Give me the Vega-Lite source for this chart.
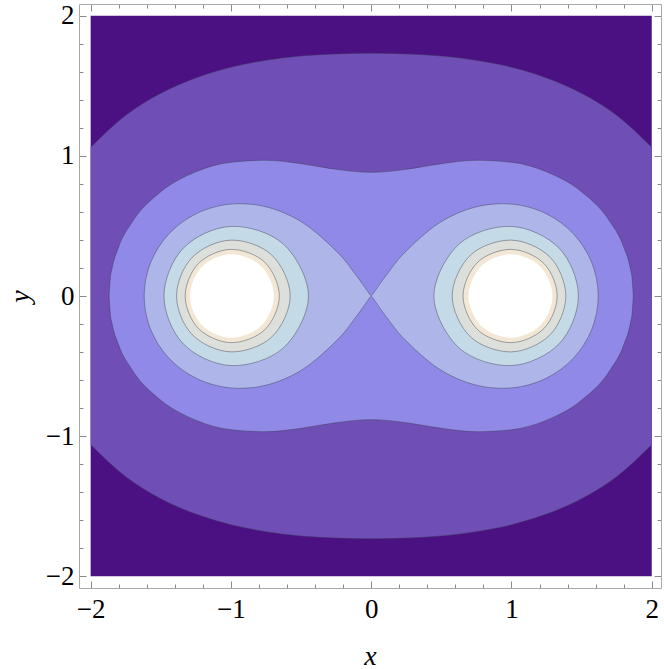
{
  "$schema": "https://vega.github.io/schema/vega-lite/v6.json",
  "width": 582,
  "height": 584,
  "autosize": {"type": "none"},
  "padding": {"left": 79, "top": 4, "right": 3, "bottom": 81},
  "background": "white",
  "config": {
    "view": {"stroke": null},
    "axis": {
      "domainColor": "#a8a8a8",
      "domainWidth": 1,
      "tickColor": "#8a8a8a",
      "tickWidth": 1,
      "grid": false,
      "labelFont": "Liberation Serif",
      "labelFontSize": 27,
      "labelColor": "black",
      "titleFont": "Liberation Serif",
      "titleFontSize": 28,
      "titleFontStyle": "italic",
      "titleFontWeight": "normal",
      "titleColor": "black",
      "zindex": 1
    }
  },
  "datasets": {
    "bg": [{"x": -2, "x2": 2, "y": -2, "y2": 2}],
    "outer": [
      {"x": -2, "y": 1.061, "ylo": -1.061},
      {"x": -1.75, "y": 1.289, "ylo": -1.289},
      {"x": -1.5, "y": 1.446, "ylo": -1.446},
      {"x": -1.25, "y": 1.556, "ylo": -1.556},
      {"x": -1, "y": 1.632, "ylo": -1.632},
      {"x": -0.75, "y": 1.681, "ylo": -1.681},
      {"x": -0.5, "y": 1.712, "ylo": -1.712},
      {"x": -0.25, "y": 1.727, "ylo": -1.727},
      {"x": 0, "y": 1.732, "ylo": -1.732},
      {"x": 0.25, "y": 1.727, "ylo": -1.727},
      {"x": 0.5, "y": 1.712, "ylo": -1.712},
      {"x": 0.75, "y": 1.681, "ylo": -1.681},
      {"x": 1, "y": 1.632, "ylo": -1.632},
      {"x": 1.25, "y": 1.556, "ylo": -1.556},
      {"x": 1.5, "y": 1.446, "ylo": -1.446},
      {"x": 1.75, "y": 1.289, "ylo": -1.289},
      {"x": 2, "y": 1.061, "ylo": -1.061}
    ],
    "peanut": [
      {"x": -1.8685, "y": 0, "ylo": 0},
      {"x": -1.86, "y": 0.126, "ylo": -0.126},
      {"x": -1.85, "y": 0.184, "ylo": -0.184},
      {"x": -1.8, "y": 0.35, "ylo": -0.35},
      {"x": -1.7, "y": 0.533, "ylo": -0.533},
      {"x": -1.5, "y": 0.743, "ylo": -0.743},
      {"x": -1.25, "y": 0.886, "ylo": -0.886},
      {"x": -1, "y": 0.954, "ylo": -0.954},
      {"x": -0.75, "y": 0.968, "ylo": -0.968},
      {"x": -0.5, "y": 0.944, "ylo": -0.944},
      {"x": -0.25, "y": 0.9035, "ylo": -0.9035},
      {"x": 0, "y": 0.8819, "ylo": -0.8819},
      {"x": 0.25, "y": 0.9035, "ylo": -0.9035},
      {"x": 0.5, "y": 0.944, "ylo": -0.944},
      {"x": 0.75, "y": 0.968, "ylo": -0.968},
      {"x": 1, "y": 0.954, "ylo": -0.954},
      {"x": 1.25, "y": 0.886, "ylo": -0.886},
      {"x": 1.5, "y": 0.743, "ylo": -0.743},
      {"x": 1.7, "y": 0.533, "ylo": -0.533},
      {"x": 1.8, "y": 0.35, "ylo": -0.35},
      {"x": 1.85, "y": 0.184, "ylo": -0.184},
      {"x": 1.86, "y": 0.126, "ylo": -0.126},
      {"x": 1.8685, "y": 0, "ylo": 0}
    ],
    "lobes": [
      {"g": "R", "o": 0, "x": 0.004, "y": 0.003},
      {"g": "R", "o": 1, "x": 0.1137, "y": 0.1562},
      {"g": "R", "o": 2, "x": 0.2424, "y": 0.3138},
      {"g": "R", "o": 3, "x": 0.4812, "y": 0.5188},
      {"g": "R", "o": 4, "x": 0.7377, "y": 0.6331},
      {"g": "R", "o": 5, "x": 1, "y": 0.6556},
      {"g": "R", "o": 6, "x": 1.2439, "y": 0.5889},
      {"g": "R", "o": 7, "x": 1.4427, "y": 0.4427},
      {"g": "R", "o": 8, "x": 1.5728, "y": 0.2373},
      {"g": "R", "o": 9, "x": 1.618, "y": 0},
      {"g": "R", "o": 10, "x": 1.5728, "y": -0.2373},
      {"g": "R", "o": 11, "x": 1.4427, "y": -0.4427},
      {"g": "R", "o": 12, "x": 1.2439, "y": -0.5889},
      {"g": "R", "o": 13, "x": 1, "y": -0.6556},
      {"g": "R", "o": 14, "x": 0.7377, "y": -0.6331},
      {"g": "R", "o": 15, "x": 0.4812, "y": -0.5188},
      {"g": "R", "o": 16, "x": 0.2424, "y": -0.3138},
      {"g": "R", "o": 17, "x": 0.1137, "y": -0.1562},
      {"g": "R", "o": 18, "x": 0.004, "y": -0.003},
      {"g": "L", "o": 0, "x": -0.004, "y": 0.003},
      {"g": "L", "o": 1, "x": -0.1137, "y": 0.1562},
      {"g": "L", "o": 2, "x": -0.2424, "y": 0.3138},
      {"g": "L", "o": 3, "x": -0.4812, "y": 0.5188},
      {"g": "L", "o": 4, "x": -0.7377, "y": 0.6331},
      {"g": "L", "o": 5, "x": -1, "y": 0.6556},
      {"g": "L", "o": 6, "x": -1.2439, "y": 0.5889},
      {"g": "L", "o": 7, "x": -1.4427, "y": 0.4427},
      {"g": "L", "o": 8, "x": -1.5728, "y": 0.2373},
      {"g": "L", "o": 9, "x": -1.618, "y": 0},
      {"g": "L", "o": 10, "x": -1.5728, "y": -0.2373},
      {"g": "L", "o": 11, "x": -1.4427, "y": -0.4427},
      {"g": "L", "o": 12, "x": -1.2439, "y": -0.5889},
      {"g": "L", "o": 13, "x": -1, "y": -0.6556},
      {"g": "L", "o": 14, "x": -0.7377, "y": -0.6331},
      {"g": "L", "o": 15, "x": -0.4812, "y": -0.5188},
      {"g": "L", "o": 16, "x": -0.2424, "y": -0.3138},
      {"g": "L", "o": 17, "x": -0.1137, "y": -0.1562},
      {"g": "L", "o": 18, "x": -0.004, "y": -0.003}
    ],
    "rings": [
      {"lev": 2.5, "g": "R", "o": 0, "x": 1.477, "y": 0},
      {"lev": 2.5, "g": "R", "o": 1, "x": 1.3404, "y": 0.3404},
      {"lev": 2.5, "g": "R", "o": 2, "x": 1, "y": 0.4964},
      {"lev": 2.5, "g": "R", "o": 3, "x": 0.6281, "y": 0.3719},
      {"lev": 2.5, "g": "R", "o": 4, "x": 0.4473, "y": 0},
      {"lev": 2.5, "g": "R", "o": 5, "x": 0.6281, "y": -0.3719},
      {"lev": 2.5, "g": "R", "o": 6, "x": 1, "y": -0.4964},
      {"lev": 2.5, "g": "R", "o": 7, "x": 1.3404, "y": -0.3404},
      {"lev": 2.5, "g": "L", "o": 0, "x": -1.477, "y": 0},
      {"lev": 2.5, "g": "L", "o": 1, "x": -1.3404, "y": 0.3404},
      {"lev": 2.5, "g": "L", "o": 2, "x": -1, "y": 0.4964},
      {"lev": 2.5, "g": "L", "o": 3, "x": -0.6281, "y": 0.3719},
      {"lev": 2.5, "g": "L", "o": 4, "x": -0.4473, "y": 0},
      {"lev": 2.5, "g": "L", "o": 5, "x": -0.6281, "y": -0.3719},
      {"lev": 2.5, "g": "L", "o": 6, "x": -1, "y": -0.4964},
      {"lev": 2.5, "g": "L", "o": 7, "x": -1.3404, "y": -0.3404},
      {"lev": 3, "g": "R", "o": 0, "x": 1.3875, "y": 0},
      {"lev": 3, "g": "R", "o": 1, "x": 1.2758, "y": 0.2758},
      {"lev": 3, "g": "R", "o": 2, "x": 1, "y": 0.3985},
      {"lev": 3, "g": "R", "o": 3, "x": 0.7082, "y": 0.2918},
      {"lev": 3, "g": "R", "o": 4, "x": 0.5774, "y": 0},
      {"lev": 3, "g": "R", "o": 5, "x": 0.7082, "y": -0.2918},
      {"lev": 3, "g": "R", "o": 6, "x": 1, "y": -0.3985},
      {"lev": 3, "g": "R", "o": 7, "x": 1.2758, "y": -0.2758},
      {"lev": 3, "g": "L", "o": 0, "x": -1.3875, "y": 0},
      {"lev": 3, "g": "L", "o": 1, "x": -1.2758, "y": 0.2758},
      {"lev": 3, "g": "L", "o": 2, "x": -1, "y": 0.3985},
      {"lev": 3, "g": "L", "o": 3, "x": -0.7082, "y": 0.2918},
      {"lev": 3, "g": "L", "o": 4, "x": -0.5774, "y": 0},
      {"lev": 3, "g": "L", "o": 5, "x": -0.7082, "y": -0.2918},
      {"lev": 3, "g": "L", "o": 6, "x": -1, "y": -0.3985},
      {"lev": 3, "g": "L", "o": 7, "x": -1.2758, "y": -0.2758},
      {"lev": 3.5, "g": "R", "o": 0, "x": 1.3257, "y": 0},
      {"lev": 3.5, "g": "R", "o": 1, "x": 1.2315, "y": 0.2315},
      {"lev": 3.5, "g": "R", "o": 2, "x": 1, "y": 0.3326},
      {"lev": 3.5, "g": "R", "o": 3, "x": 0.7592, "y": 0.2408},
      {"lev": 3.5, "g": "R", "o": 4, "x": 0.6547, "y": 0},
      {"lev": 3.5, "g": "R", "o": 5, "x": 0.7592, "y": -0.2408},
      {"lev": 3.5, "g": "R", "o": 6, "x": 1, "y": -0.3326},
      {"lev": 3.5, "g": "R", "o": 7, "x": 1.2315, "y": -0.2315},
      {"lev": 3.5, "g": "L", "o": 0, "x": -1.3257, "y": 0},
      {"lev": 3.5, "g": "L", "o": 1, "x": -1.2315, "y": 0.2315},
      {"lev": 3.5, "g": "L", "o": 2, "x": -1, "y": 0.3326},
      {"lev": 3.5, "g": "L", "o": 3, "x": -0.7592, "y": 0.2408},
      {"lev": 3.5, "g": "L", "o": 4, "x": -0.6547, "y": 0},
      {"lev": 3.5, "g": "L", "o": 5, "x": -0.7592, "y": -0.2408},
      {"lev": 3.5, "g": "L", "o": 6, "x": -1, "y": -0.3326},
      {"lev": 3.5, "g": "L", "o": 7, "x": -1.2315, "y": -0.2315},
      {"lev": 3.8, "g": "R", "o": 0, "x": 1.2972, "y": 0},
      {"lev": 3.8, "g": "R", "o": 1, "x": 1.2111, "y": 0.2111},
      {"lev": 3.8, "g": "R", "o": 2, "x": 1, "y": 0.3025},
      {"lev": 3.8, "g": "R", "o": 3, "x": 0.782, "y": 0.218},
      {"lev": 3.8, "g": "R", "o": 4, "x": 0.6882, "y": 0},
      {"lev": 3.8, "g": "R", "o": 5, "x": 0.782, "y": -0.218},
      {"lev": 3.8, "g": "R", "o": 6, "x": 1, "y": -0.3025},
      {"lev": 3.8, "g": "R", "o": 7, "x": 1.2111, "y": -0.2111},
      {"lev": 3.8, "g": "L", "o": 0, "x": -1.2972, "y": 0},
      {"lev": 3.8, "g": "L", "o": 1, "x": -1.2111, "y": 0.2111},
      {"lev": 3.8, "g": "L", "o": 2, "x": -1, "y": 0.3025},
      {"lev": 3.8, "g": "L", "o": 3, "x": -0.782, "y": 0.218},
      {"lev": 3.8, "g": "L", "o": 4, "x": -0.6882, "y": 0},
      {"lev": 3.8, "g": "L", "o": 5, "x": -0.782, "y": -0.218},
      {"lev": 3.8, "g": "L", "o": 6, "x": -1, "y": -0.3025},
      {"lev": 3.8, "g": "L", "o": 7, "x": -1.2111, "y": -0.2111}
    ]
  },
  "layer": [
    {
      "data": {"name": "bg"},
      "mark": {"type": "rect", "color": "#4b1183"},
      "encoding": {
        "x": {"field": "x", "type": "quantitative", "scale": {"domain": [-2.083, 2.066], "nice": false, "zero": false},
          "axis": {"orient": "bottom", "title": "x",
            "values": [-2,-1.8,-1.6,-1.4,-1.2,-1,-0.8,-0.6,-0.4,-0.2,0,0.2,0.4,0.6,0.8,1,1.2,1.4,1.6,1.8,2],
            "tickSize": {"condition": {"test": "abs(datum.value - round(datum.value)) < 0.01", "value": -7}, "value": -4},
            "labelExpr": "abs(datum.value - round(datum.value)) < 0.01 ? datum.label : ''",
            "format": "~g", "labelPadding": 15, "labelBaseline": "top", "labelFlush": false,
            "titleY": 76, "titleBaseline": "alphabetic"}},
        "x2": {"field": "x2"},
        "y": {"field": "y", "type": "quantitative", "scale": {"domain": [-2.083, 2.083], "nice": false, "zero": false},
          "axis": {"orient": "left", "title": "y",
            "values": [-2,-1.8,-1.6,-1.4,-1.2,-1,-0.8,-0.6,-0.4,-0.2,0,0.2,0.4,0.6,0.8,1,1.2,1.4,1.6,1.8,2],
            "tickSize": {"condition": {"test": "abs(datum.value - round(datum.value)) < 0.01", "value": -7}, "value": -4},
            "labelExpr": "abs(datum.value - round(datum.value)) < 0.01 ? datum.label : ''",
            "format": "~g", "labelPadding": 12, "labelFlush": false,
            "titleX": -51, "titleY": 292, "titleAngle": -90, "titleBaseline": "alphabetic", "titleAlign": "center"}},
        "y2": {"field": "y2"}
      }
    },
    {
      "data": {"name": "outer"},
      "mark": {"type": "area", "color": "#6f4eb6", "interpolate": "monotone"},
      "encoding": {
        "x": {"field": "x", "type": "quantitative", "scale": {"domain": [-2.083, 2.066], "nice": false, "zero": false},
          "axis": {"orient": "top", "title": null, "labels": false,
            "values": [-2,-1.8,-1.6,-1.4,-1.2,-1,-0.8,-0.6,-0.4,-0.2,0,0.2,0.4,0.6,0.8,1,1.2,1.4,1.6,1.8,2],
            "tickSize": {"condition": {"test": "abs(datum.value - round(datum.value)) < 0.01", "value": -7}, "value": -4}}},
        "y": {"field": "y", "type": "quantitative", "scale": {"domain": [-2.083, 2.083], "nice": false, "zero": false},
          "axis": {"orient": "right", "title": null, "labels": false,
            "values": [-2,-1.8,-1.6,-1.4,-1.2,-1,-0.8,-0.6,-0.4,-0.2,0,0.2,0.4,0.6,0.8,1,1.2,1.4,1.6,1.8,2],
            "tickSize": {"condition": {"test": "abs(datum.value - round(datum.value)) < 0.01", "value": -7}, "value": -4}}},
        "y2": {"field": "ylo"}
      }
    },
    {
      "data": {"name": "outer"},
      "mark": {"type": "line", "color": "#3a3a50", "strokeWidth": 0.8, "opacity": 0.55, "interpolate": "monotone"},
      "encoding": {
        "x": {"field": "x", "type": "quantitative", "scale": {"domain": [-2.083, 2.066], "nice": false, "zero": false}, "axis": null},
        "y": {"field": "y", "type": "quantitative", "scale": {"domain": [-2.083, 2.083], "nice": false, "zero": false}, "axis": null}
      }
    },
    {
      "data": {"name": "outer"},
      "mark": {"type": "line", "color": "#3a3a50", "strokeWidth": 0.8, "opacity": 0.55, "interpolate": "monotone"},
      "encoding": {
        "x": {"field": "x", "type": "quantitative", "scale": {"domain": [-2.083, 2.066], "nice": false, "zero": false}, "axis": null},
        "y": {"field": "ylo", "type": "quantitative", "scale": {"domain": [-2.083, 2.083], "nice": false, "zero": false}, "axis": null}
      }
    },
    {
      "data": {"name": "peanut"},
      "mark": {"type": "area", "fill": "#9189e8", "stroke": "#3a3a50", "strokeWidth": 0.8, "strokeOpacity": 0.55, "interpolate": "monotone"},
      "encoding": {
        "x": {"field": "x", "type": "quantitative", "scale": {"domain": [-2.083, 2.066], "nice": false, "zero": false}, "axis": null},
        "y": {"field": "y", "type": "quantitative", "scale": {"domain": [-2.083, 2.083], "nice": false, "zero": false}, "axis": null},
        "y2": {"field": "ylo"}
      }
    },
    {
      "data": {"name": "lobes"},
      "mark": {"type": "line", "fill": "#aeb5e9", "stroke": "#3a3a50", "strokeWidth": 0.8, "strokeOpacity": 0.55, "interpolate": "cardinal"},
      "encoding": {
        "x": {"field": "x", "type": "quantitative", "scale": {"domain": [-2.083, 2.066], "nice": false, "zero": false}, "axis": null},
        "y": {"field": "y", "type": "quantitative", "scale": {"domain": [-2.083, 2.083], "nice": false, "zero": false}, "axis": null},
        "detail": {"field": "g"},
        "order": {"field": "o", "type": "quantitative"}
      }
    },
    {
      "data": {"name": "rings"},
      "transform": [{"filter": "datum.lev == 2.5"}],
      "mark": {"type": "line", "fill": "#c4dae6", "stroke": "#3a3a50", "strokeWidth": 0.8, "strokeOpacity": 0.55, "interpolate": "cardinal-closed"},
      "encoding": {
        "x": {"field": "x", "type": "quantitative", "scale": {"domain": [-2.083, 2.066], "nice": false, "zero": false}, "axis": null},
        "y": {"field": "y", "type": "quantitative", "scale": {"domain": [-2.083, 2.083], "nice": false, "zero": false}, "axis": null},
        "detail": {"field": "g"},
        "order": {"field": "o", "type": "quantitative"}
      }
    },
    {
      "data": {"name": "rings"},
      "transform": [{"filter": "datum.lev == 3"}],
      "mark": {"type": "line", "fill": "#dcdfda", "stroke": "#3a3a50", "strokeWidth": 0.8, "strokeOpacity": 0.55, "interpolate": "cardinal-closed"},
      "encoding": {
        "x": {"field": "x", "type": "quantitative", "scale": {"domain": [-2.083, 2.066], "nice": false, "zero": false}, "axis": null},
        "y": {"field": "y", "type": "quantitative", "scale": {"domain": [-2.083, 2.083], "nice": false, "zero": false}, "axis": null},
        "detail": {"field": "g"},
        "order": {"field": "o", "type": "quantitative"}
      }
    },
    {
      "data": {"name": "rings"},
      "transform": [{"filter": "datum.lev == 3.5"}],
      "mark": {"type": "line", "fill": "#f1e7d4", "stroke": "#3a3a50", "strokeWidth": 0.8, "strokeOpacity": 0.55, "interpolate": "cardinal-closed"},
      "encoding": {
        "x": {"field": "x", "type": "quantitative", "scale": {"domain": [-2.083, 2.066], "nice": false, "zero": false}, "axis": null},
        "y": {"field": "y", "type": "quantitative", "scale": {"domain": [-2.083, 2.083], "nice": false, "zero": false}, "axis": null},
        "detail": {"field": "g"},
        "order": {"field": "o", "type": "quantitative"}
      }
    },
    {
      "data": {"name": "rings"},
      "transform": [{"filter": "datum.lev == 3.8"}],
      "mark": {"type": "line", "fill": "#ffffff", "stroke": "#f3e8d6", "strokeWidth": 1.5, "interpolate": "cardinal-closed"},
      "encoding": {
        "x": {"field": "x", "type": "quantitative", "scale": {"domain": [-2.083, 2.066], "nice": false, "zero": false}, "axis": null},
        "y": {"field": "y", "type": "quantitative", "scale": {"domain": [-2.083, 2.083], "nice": false, "zero": false}, "axis": null},
        "detail": {"field": "g"},
        "order": {"field": "o", "type": "quantitative"}
      }
    }
  ]
}
